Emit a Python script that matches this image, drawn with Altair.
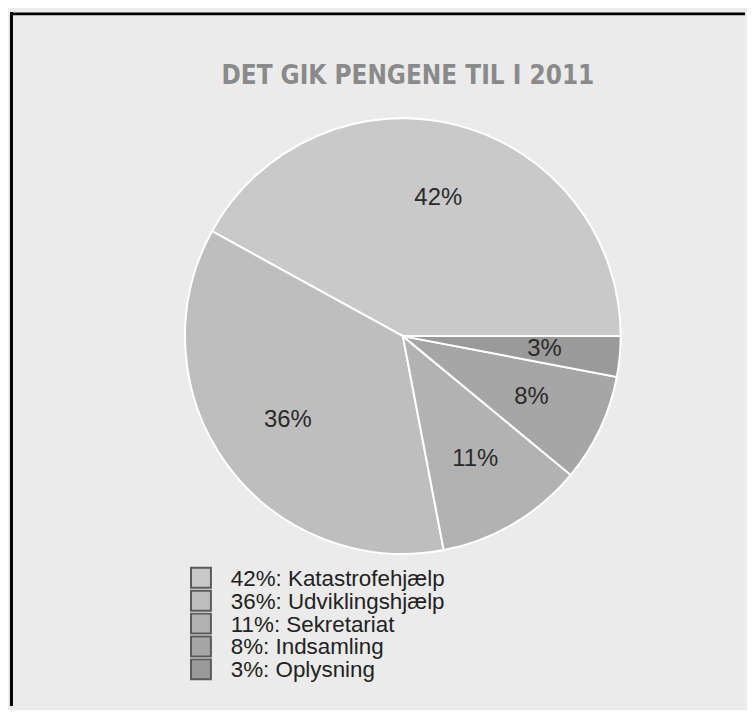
import math
import altair as alt
import pandas as pd

categories = ["Katastrofehjælp", "Udviklingshjælp", "Sekretariat", "Indsamling", "Oplysning"]
values = [42, 36, 11, 8, 3]
colors = ["#c9c9c9", "#bebebe", "#b2b2b2", "#a6a6a6", "#9a9a9a"]
title_text = "DET GIK PENGENE TIL I 2011"

legend_labels = [f"{v}%: {c}" for v, c in zip(values, categories)]
df = pd.DataFrame({
    "category": categories,
    "value": values,
    "pct": [f"{v}%" for v in values],
    "legend": legend_labels,
    # drawn clockwise from 3 o'clock, smallest slice first
    "order": list(range(len(values), 0, -1)),
})

W, H = 739, 698
CX, CY = 395, 326
R = 219

theta = alt.Theta("value:Q", stack=True,
                  scale=alt.Scale(range=[math.pi / 2, math.pi / 2 + 2 * math.pi]))
order = alt.Order("order:Q")
color = alt.Color("legend:N", scale=alt.Scale(domain=legend_labels, range=colors),
                  legend=None)

base = alt.Chart(df)

arcs = base.mark_arc(stroke="white", strokeWidth=2, radius=R).encode(
    theta=theta, order=order, color=color,
    x=alt.value(CX), y=alt.value(CY),
)

labels = base.mark_text(radius=143, font="Liberation Sans", fontSize=24,
                        color="#2a2a2a").encode(
    theta=theta, order=order, text="pct:N",
    x=alt.value(CX), y=alt.value(CY),
)

# legend drawn from the same data with a point scale for the rows
legend_y = alt.Y("legend:N", axis=None,
                 scale=alt.Scale(type="point", domain=legend_labels,
                                 range=[569, 661], padding=0))
leg_sym = base.mark_point(shape="square", size=400, filled=True, opacity=1,
                          stroke="#5a5a5a", strokeWidth=2).encode(
    y=legend_y, x=alt.value(192), fill=alt.Fill("legend:N",
        scale=alt.Scale(domain=legend_labels, range=colors), legend=None),
)
leg_txt = base.mark_text(align="left", baseline="middle", font="Liberation Sans",
                         fontSize=22.5, color="#222222", dy=1).encode(
    y=legend_y, x=alt.value(222), text="legend:N",
)

title_df = pd.DataFrame({"t": [title_text]})
title = alt.Chart(title_df).mark_text(
    font="DejaVu Sans Condensed, Liberation Sans Narrow, Liberation Sans, sans-serif",
    fontWeight="bold", fontSize=26, color="#8a8a8a", baseline="alphabetic",
).encode(text="t:N", x=alt.value(400), y=alt.value(73))

border_df = pd.DataFrame({"b": [0]})
top_rule = alt.Chart(border_df).mark_rule(color="black", strokeWidth=3).encode(
    x=alt.value(0), x2=alt.value(W), y=alt.value(2))
left_rule = alt.Chart(border_df).mark_rule(color="black", strokeWidth=3).encode(
    x=alt.value(1.5), y=alt.value(0), y2=alt.value(H))

chart = alt.layer(arcs, labels, leg_sym, leg_txt, title, top_rule, left_rule).properties(
    width=W, height=H, background="#ebebeb", padding=0,
).configure_view(stroke=None)

chart.save("out.html", embed_options={"renderer": "svg", "actions": False})
